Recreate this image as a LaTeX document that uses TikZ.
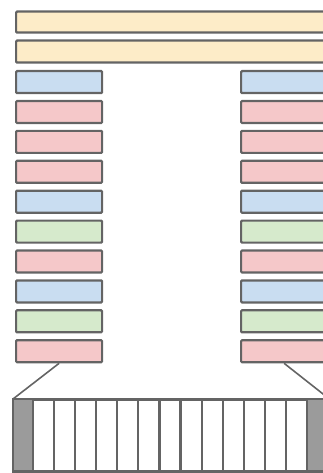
\documentclass[tikz,border=0pt]{standalone}
\definecolor{edge}{RGB}{100,100,100}
\definecolor{cyel}{RGB}{253,236,200}
\definecolor{cblu}{RGB}{201,221,241}
\definecolor{cpnk}{RGB}{245,200,201}
\definecolor{cgrn}{RGB}{214,234,204}
\definecolor{cdark}{RGB}{155,155,155}
\begin{document}
\begin{tikzpicture}[x=1pt,y=-1pt,
  box/.style={draw=edge, line width=2.2pt, rounded corners=1pt, inner sep=0pt,
    anchor=north west, minimum height=22pt},
  colbox/.style={box, minimum width=86pt},
  link/.style={draw=edge, line width=1.6pt}]
\useasboundingbox (0,0) rectangle (323,473);
\clip (0,0) rectangle (323,473);
\node[box, fill=cyel, minimum width=310pt, minimum height=21pt] (y1) at (15,10.5) {};
\node[box, fill=cyel, minimum width=310pt] (y2) at (15,39.5) {};
\foreach \c [count=\i] in {cblu,cpnk,cpnk,cpnk,cblu,cgrn,cpnk,cblu,cgrn,cpnk}{
  \node[colbox, fill=\c] (L\i) at (15,{70+29.9*(\i-1)}) {};
  \node[colbox, fill=\c] (R\i) at (240,{70+29.9*(\i-1)}) {};
}
\node[draw=edge, line width=2.4pt, inner sep=0pt, anchor=north west,
  minimum width=314pt, minimum height=71pt] (bot) at (13,399) {};
\fill[cdark] (13,399) rectangle (33,470);
\fill[cdark] (307,399) rectangle (327,470);
\foreach \k in {0,...,13}{
  \draw[edge, line width=2.2pt] ({33+21.077*\k},399) -- ({33+21.077*\k},470);
}
\draw[draw=edge, line width=2.4pt] (bot.north west) rectangle (bot.south east);
\draw[link] (L10.south) -- (bot.north west);
\draw[link] (R10.south) -- (bot.north east);
\end{tikzpicture}
\end{document}
